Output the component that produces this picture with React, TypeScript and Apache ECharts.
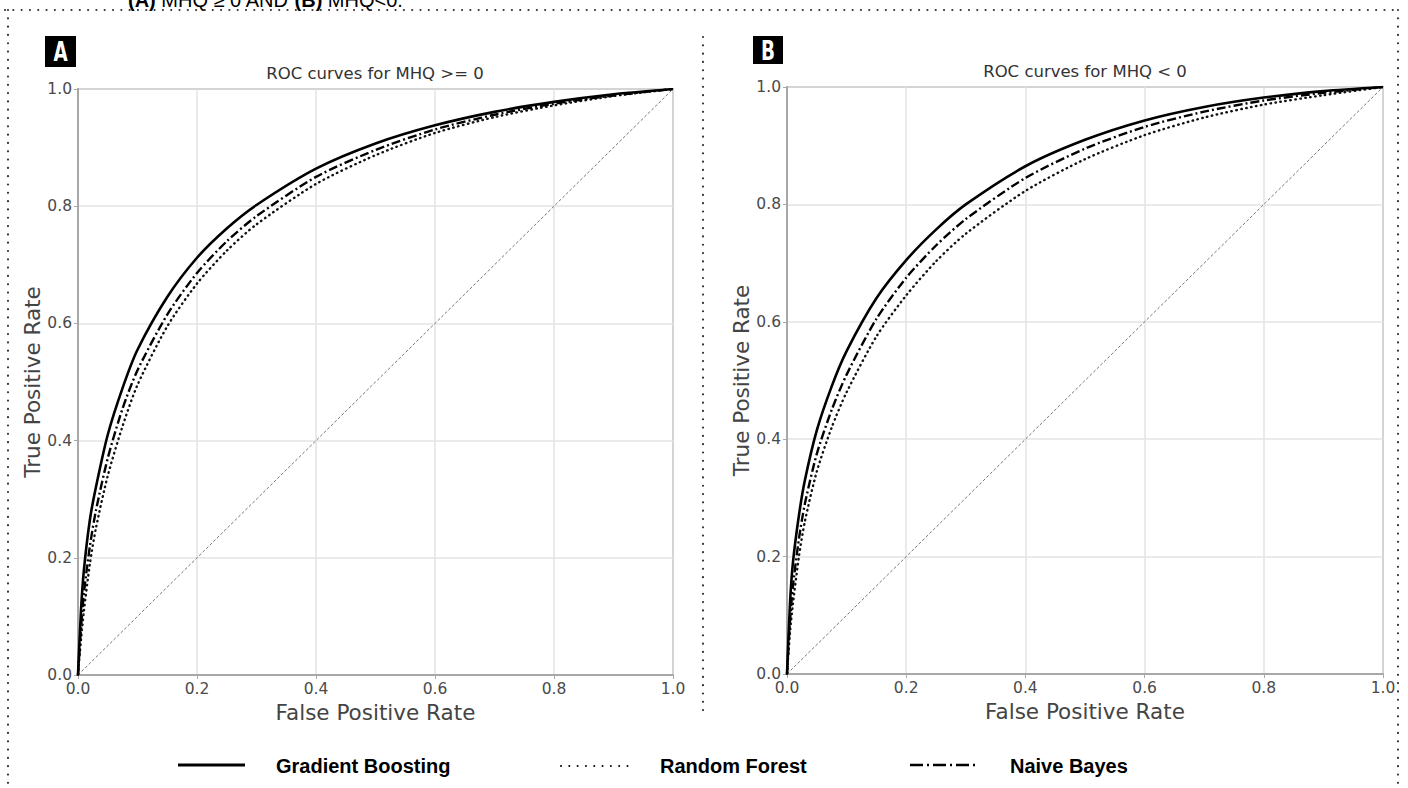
import React, { useEffect, useRef } from "react";
import * as echarts from "echarts";

// False positive rates sampled along each ROC curve
const fpr = [0, 0.005, 0.01, 0.02, 0.03, 0.05, 0.075, 0.1, 0.15, 0.2, 0.25, 0.3, 0.4, 0.5, 0.6, 0.7, 0.8, 0.9, 1.0];

// Panel A: MHQ >= 0
const gbA = [0, 0.11, 0.18, 0.265, 0.32, 0.41, 0.49, 0.555, 0.645, 0.712, 0.762, 0.802, 0.864, 0.907, 0.938, 0.961, 0.978, 0.991, 1.0];
const nbA = [0, 0.08, 0.14, 0.22, 0.28, 0.37, 0.455, 0.52, 0.615, 0.686, 0.74, 0.783, 0.85, 0.896, 0.931, 0.956, 0.975, 0.989, 1.0];
const rfA = [0, 0.06, 0.11, 0.19, 0.25, 0.34, 0.425, 0.495, 0.595, 0.668, 0.724, 0.769, 0.838, 0.887, 0.925, 0.952, 0.972, 0.988, 1.0];

// Panel B: MHQ < 0
const gbB = [0, 0.12, 0.19, 0.27, 0.33, 0.415, 0.49, 0.55, 0.64, 0.705, 0.757, 0.8, 0.865, 0.91, 0.943, 0.966, 0.982, 0.993, 1.0];
const nbB = [0, 0.09, 0.15, 0.23, 0.29, 0.375, 0.45, 0.51, 0.605, 0.675, 0.73, 0.775, 0.845, 0.895, 0.932, 0.958, 0.977, 0.99, 1.0];
const rfB = [0, 0.07, 0.12, 0.2, 0.26, 0.345, 0.42, 0.48, 0.575, 0.645, 0.703, 0.75, 0.823, 0.877, 0.918, 0.948, 0.97, 0.986, 1.0];

const chance = [0, 1];

const panelTitles = ["ROC curves for MHQ >= 0", "ROC curves for MHQ < 0"];
const panelBadges = ["A", "B"];
const modelNames = ["Gradient Boosting", "Random Forest", "Naive Bayes"];
const xAxisName = "False Positive Rate";
const yAxisName = "True Positive Rate";
const figureCaption = "{b|(A)} MHQ ≥ 0 AND {b|(B)} MHQ<0.";

const FONT = "'DejaVu Sans', sans-serif";

export default function App() {
  const ref = useRef<HTMLDivElement>(null);

  useEffect(() => {
    if (!ref.current) return;
    const chart = echarts.init(ref.current, undefined, { renderer: "svg" });

    const pairs = (ys: number[]) => fpr.map((x, i) => [x, ys[i]]);

    const axisCommon = {
      type: "value" as const,
      min: 0,
      max: 1,
      interval: 0.2,
      axisLine: { show: true, lineStyle: { color: "#a8a8a8", width: 2 } },
      axisTick: { show: true, length: 4, lineStyle: { color: "#a8a8a8", width: 1 } },
      splitLine: { show: true, lineStyle: { color: "#e3e3e3", width: 1.5 } },
      axisLabel: {
        color: "#4a4a4a",
        fontFamily: FONT,
        fontSize: 15.5,
        formatter: (v: number) => v.toFixed(1),
      },
      nameTextStyle: { color: "#444", fontFamily: FONT, fontSize: 21.5 },
    };

    const grids = [
      { left: 78, top: 89, width: 595, height: 586 },
      { left: 787, top: 87, width: 596, height: 587 },
    ];

    const styleSolid = { color: "#000", width: 2.6, type: "solid" as any };
    const styleDot = { color: "#111", width: 2.4, type: [0.5, 4.5] as any, cap: "round" as any };
    const styleDashDot = { color: "#000", width: 2.4, type: [9, 3, 2, 3] as any };

    const mkSeries = (gi: number, gb: number[], nb: number[], rf: number[]) => [
      {
        type: "line",
        xAxisIndex: gi,
        yAxisIndex: gi,
        data: chance.map((v) => [v, v]),
        symbol: "none",
        silent: true,
        lineStyle: { color: "#777", width: 1, type: [3, 2] },
        z: 2,
      },
      {
        name: modelNames[1],
        type: "line",
        xAxisIndex: gi,
        yAxisIndex: gi,
        data: pairs(rf),
        symbol: "none",
        smooth: 0.25,
        lineStyle: styleDot,
        z: 3,
      },
      {
        name: modelNames[2],
        type: "line",
        xAxisIndex: gi,
        yAxisIndex: gi,
        data: pairs(nb),
        symbol: "none",
        smooth: 0.25,
        lineStyle: styleDashDot,
        z: 4,
      },
      {
        name: modelNames[0],
        type: "line",
        xAxisIndex: gi,
        yAxisIndex: gi,
        data: pairs(gb),
        symbol: "none",
        smooth: 0.25,
        lineStyle: styleSolid,
        z: 5,
      },
    ];

    const dotted = (x1: number, y1: number, x2: number, y2: number) => ({
      type: "line",
      shape: { x1, y1, x2, y2 },
      style: { stroke: "#333", lineWidth: 2.2, lineDash: [0.01, 8.3], lineCap: "round" },
      silent: true,
    });

    const badge = (x: number, y: number, w: number, h: number, t: string) => [
      { type: "rect", shape: { x, y, width: w, height: h }, style: { fill: "#000" } },
      {
        type: "text",
        x: x + w / 2,
        y: y + h / 2 + 1,
        scaleX: 0.85,
        scaleY: 1.1,
        style: {
          text: t,
          fill: "#fff",
          font: "bold 24px 'DejaVu Sans Condensed', 'DejaVu Sans', sans-serif",
          align: "center",
          verticalAlign: "middle",
        },
      },
    ];

    const legendFont = "bold 20px 'Liberation Sans', Arial, sans-serif";
    const legendText = (x: number, t: string) => ({
      type: "text",
      x,
      y: 766,
      style: { text: t, fill: "#000", font: legendFont, align: "left", verticalAlign: "middle" },
    });

    const option: any = {
      animation: false,
      backgroundColor: "#fff",
      grid: grids.map((g) => ({ ...g, show: true, borderColor: "#a8a8a8", borderWidth: 2, backgroundColor: "transparent" })),
      xAxis: [0, 1].map((i) => ({
        ...axisCommon,
        gridIndex: i,
        name: xAxisName,
        nameLocation: "middle",
        nameGap: 22,
        axisLabel: { ...axisCommon.axisLabel, margin: 6 },
      })),
      yAxis: [0, 1].map((i) => ({
        ...axisCommon,
        gridIndex: i,
        name: yAxisName,
        nameLocation: "middle",
        nameGap: 34,
        axisLabel: { ...axisCommon.axisLabel, margin: 6 },
      })),
      series: [...mkSeries(0, gbA, nbA, rfA), ...mkSeries(1, gbB, nbB, rfB)],
      graphic: [
        // caption (cut off at the top edge, as in the source figure)
        {
          type: "text",
          x: 128,
          y: 10,
          style: {
            text: figureCaption,
            fill: "#000",
            font: "20px 'Liberation Sans', Arial, sans-serif",
            verticalAlign: "bottom",
            rich: { b: { fontWeight: "bold", fontSize: 20, fontFamily: "'Liberation Sans', Arial, sans-serif" } },
          },
        },
        dotted(5, 10, 1398, 10),
        dotted(8, 10, 8, 790),
        dotted(1398, 10, 1398, 790),
        dotted(703, 37, 703, 716),
        ...badge(45, 36, 31, 31, panelBadges[0]),
        ...badge(753, 36, 30, 28, panelBadges[1]),
        {
          type: "text",
          x: 375,
          y: 73,
          style: { text: panelTitles[0], fill: "#333", font: `16.5px ${FONT}`, align: "center", verticalAlign: "middle" },
        },
        {
          type: "text",
          x: 1085,
          y: 71,
          style: { text: panelTitles[1], fill: "#333", font: `16.5px ${FONT}`, align: "center", verticalAlign: "middle" },
        },
        // legend
        { type: "line", shape: { x1: 178, y1: 765, x2: 245, y2: 765 }, style: { stroke: "#000", lineWidth: 3 } },
        legendText(276, modelNames[0]),
        {
          type: "line",
          shape: { x1: 561, y1: 766, x2: 630, y2: 766 },
          style: { stroke: "#000", lineWidth: 2, lineDash: [0.01, 8.3], lineCap: "round" },
        },
        legendText(660, modelNames[1]),
        {
          type: "line",
          shape: { x1: 910, y1: 765, x2: 976, y2: 765 },
          style: { stroke: "#000", lineWidth: 2.6, lineDash: [13, 4, 2, 4] },
        },
        legendText(1010, modelNames[2]),
      ],
    };

    chart.setOption(option);
    return () => chart.dispose();
  }, []);

  return (
    <div
      ref={ref}
      style={{ position: "fixed", left: 0, top: 0, width: "1408px", height: "788px", background: "#fff" }}
    />
  );
}
